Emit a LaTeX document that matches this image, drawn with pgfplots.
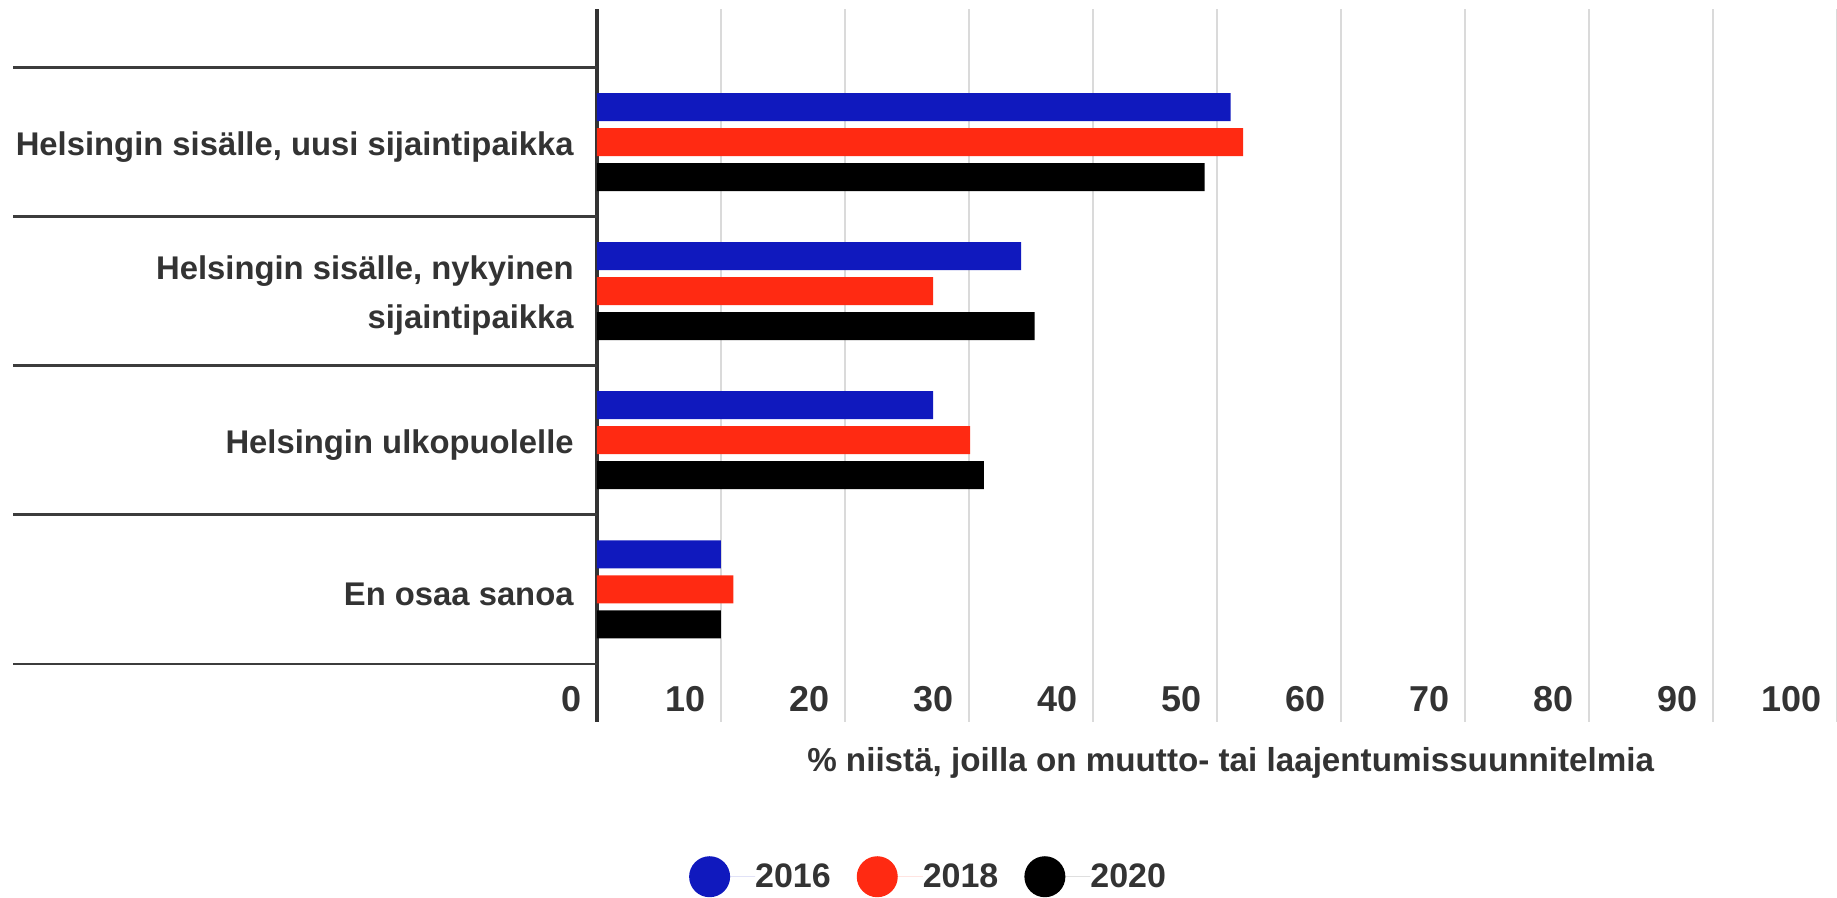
\documentclass[border=0pt]{standalone}
\usepackage{fontspec}
\setmainfont{Liberation Sans}
\usepackage{pgfplots}
\pgfplotsset{compat=1.18}
\usetikzlibrary{calc}
\definecolor{c16}{HTML}{1019BE}
\definecolor{c18}{HTML}{FF2A12}
\definecolor{c20}{HTML}{000000}
\definecolor{txt}{HTML}{333333}
\definecolor{gridc}{HTML}{DADADA}
\definecolor{sepc}{HTML}{3C3C3C}
\begin{document}
\begin{tikzpicture}
\begin{axis}[
  scale only axis, width=620pt, height=356.5pt,
  xbar=3.5pt, bar width=14pt,
  xmin=0, xmax=100, ymin=-0.892, ymax=3.89, y dir=reverse,
  enlargelimits=false,
  axis line style={draw=none},
  xtick={0,10,...,100},
  major tick length=0pt,
  xmajorgrids, grid style={line width=1.2pt, color=gridc},
  extra x ticks={0}, extra x tick labels={},
  extra x tick style={grid=major, major grid style={line width=2.2pt, color=txt}},
  /pgf/number format/assume math mode=true,
  xticklabel style={anchor=south east, inner sep=0pt, xshift=-7.5pt, yshift=5pt,
    font=\fontsize{18}{18}\selectfont\bfseries, text=txt},
  ytick={0,1,2,3},
  ytick pos=left,
  yticklabels={{Helsingin sisälle, uusi sijaintipaikka},{Helsingin sisälle, nykyinen\\sijaintipaikka},{Helsingin ulkopuolelle},{En osaa sanoa}},
  yticklabel style={align=right, font=\fontsize{16.4}{24.5}\selectfont\bfseries, text=txt, inner sep=0pt, xshift=-11.5pt, yshift=-2.3pt},
  extra y ticks={-0.5,0.5,1.5,2.5,3.5},
  extra y tick labels={},
  extra y tick style={major tick length=292pt, tick align=outside, tick style={line width=1.3pt, color=sepc}},
  xlabel={\% niistä, joilla on muutto- tai laajentumissuunnitelmia},
  xlabel style={at={(axis description cs:0.511,0)}, anchor=center, yshift=-20.5pt,
    font=\fontsize{16.6}{16.6}\selectfont\bfseries, text=txt},
  legend columns=3,
  legend style={at={(0.2666,-0.217)}, anchor=center, draw=none, fill=none,
    font=\fontsize{17}{17}\selectfont\bfseries, text=txt,
    nodes={inner sep=0pt},
    /tikz/every even column/.append style={column sep=13pt}},
  legend image code/.code={\fill[#1,draw=none] (10.25pt,0pt) circle (10.25pt); \path (0pt,0pt) -- (33pt,0pt);},
]
\addplot[fill=c16, draw=none, bar shift=17.5pt] coordinates {(51.1,0) (34.2,1) (27.1,2) (10,3)};
\addplot[fill=c18, draw=none, bar shift=0pt] coordinates {(52.1,0) (27.1,1) (30.1,2) (11,3)};
\addplot[fill=c20, draw=none, bar shift=-17.5pt] coordinates {(49,0) (35.3,1) (31.2,2) (10,3)};
\legend{2016,2018,2020}
\end{axis}
\pgfresetboundingbox
\path ($(current axis.south west)+(-298.5pt,-88pt)$) rectangle ($(current axis.north east)+(0pt,4.5pt)$);
\end{tikzpicture}
\end{document}
